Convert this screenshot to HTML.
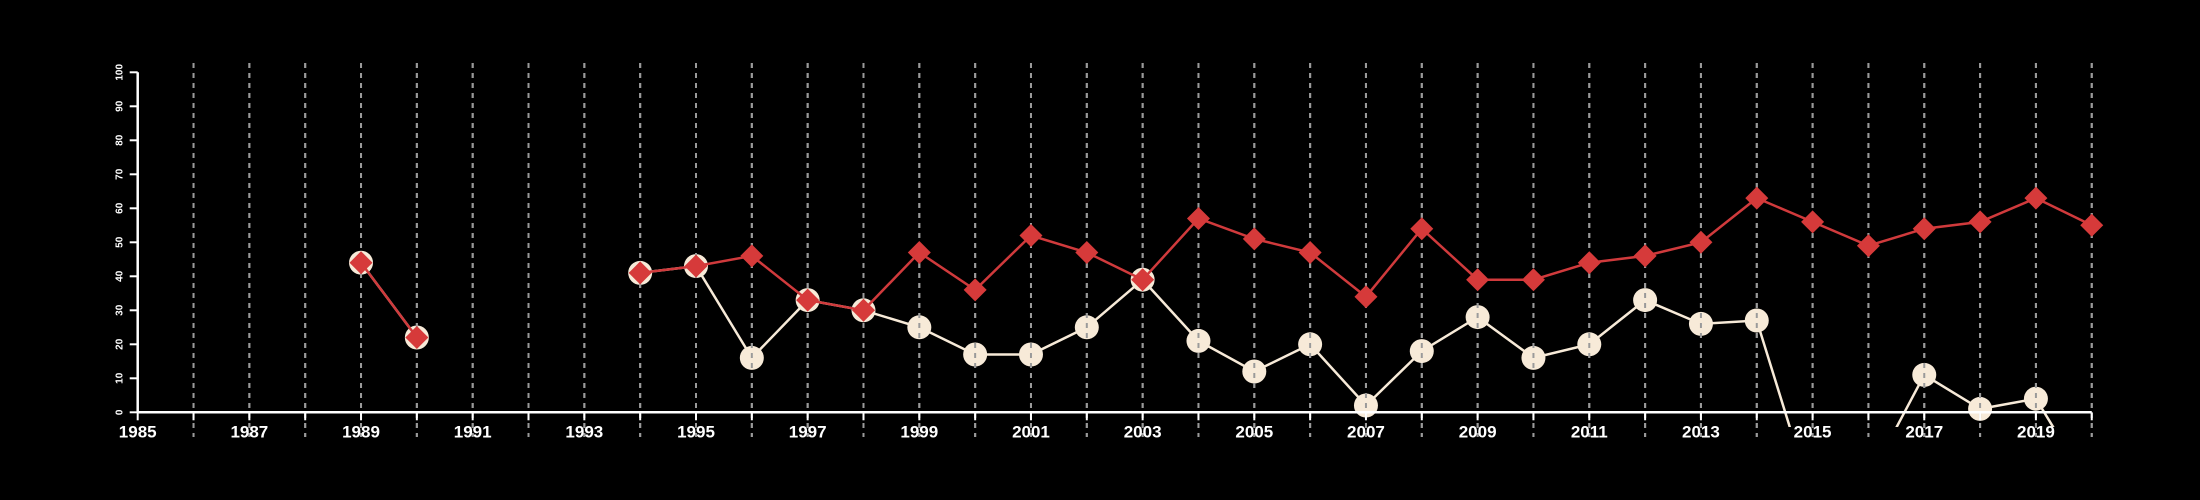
<!DOCTYPE html>
<html><head><meta charset="utf-8"><style>
html,body{margin:0;padding:0;background:#000;}
svg{display:block;}
text{font-family:"Liberation Sans",sans-serif;font-weight:bold;fill:#fff;}
</style></head><body>
<svg id="chart" width="2200" height="500" viewBox="0 0 2200 500">
<defs><clipPath id="plotclip"><rect x="0" y="0" width="2200" height="427"/></clipPath></defs>
<rect width="2200" height="500" fill="#000"/>
<g id="grid"></g>
<g id="whiteSeries" clip-path="url(#plotclip)"></g>
<g id="gridOver"></g>
<g id="redSeries"></g>
<g id="axes"></g>
</svg>
<script>
const years = [1989,1990,1994,1995,1996,1997,1998,1999,2000,2001,2002,2003,2004,2005,2006,2007,2008,2009,2010,2011,2012,2013,2014,2015,2016,2017,2018,2019,2020];
const redValues = [44,22,41,43,46,33,30,47,36,52,47,39,57,51,47,34,54,39,39,44,46,50,63,56,49,54,56,63,55];
const whiteValues = [44,22,41,43,16,33,30,25,17,17,25,39,21,12,20,2,18,28,16,20,33,26,27,-26,-20,11,1,4,-23];
const yTicks = [0,10,20,30,40,50,60,70,80,90,100];
const xLabels = [1985,1987,1989,1991,1993,1995,1997,1999,2001,2003,2005,2007,2009,2011,2013,2015,2017,2019];
const segments = [[0,1],[2,28]];

const NS="http://www.w3.org/2000/svg";
const X0=137.7, PERYR=55.83, Y0=412.3, PERU=3.4;
const xs=y=>X0+(y-1985)*PERYR;
const ys=v=>Y0-v*PERU;
function mk(tag,attrs,parent){const e=document.createElementNS(NS,tag);for(const k in attrs)e.setAttribute(k,attrs[k]);parent.appendChild(e);return e;}
const grid=document.getElementById('grid'),gridOver=document.getElementById('gridOver'),ws=document.getElementById('whiteSeries'),rs=document.getElementById('redSeries'),ax=document.getElementById('axes');

for(let y=1986;y<=2020;y++){
  for(const g of [grid,gridOver]){
    const l=mk('line',{x1:xs(y),x2:xs(y),y1:63,y2:437,stroke:'#9a9a9a','stroke-width':2,'stroke-dasharray':'5,5'},g);
    
    
  }
}
// white series
for(const [a,b] of segments){
  let pts=[];for(let i=a;i<=b;i++)pts.push(xs(years[i])+','+ys(whiteValues[i]));
  const p=mk('polyline',{points:pts.join(' '),fill:'none',stroke:'#f7ead8','stroke-width':2.5},ws);
  
  
}
years.forEach((y,i)=>{
  if(whiteValues[i]<-3)return;
  const c=mk('circle',{cx:xs(y),cy:ys(whiteValues[i]),r:12,fill:'#f7ead8'},ws);
  
  
});
// red series
for(const [a,b] of segments){
  let pts=[];for(let i=a;i<=b;i++)pts.push(xs(years[i])+','+ys(redValues[i]));
  const p=mk('polyline',{points:pts.join(' '),fill:'none',stroke:'#d03a3c','stroke-width':2.5},rs);
  
  
}
years.forEach((y,i)=>{
  const cx=xs(y),cy=ys(redValues[i]),d=11.5;
  const p=mk('polygon',{points:`${cx},${cy-d} ${cx+d},${cy} ${cx},${cy+d} ${cx-d},${cy}`,fill:'#d63a3a'},rs);
  
  
});
// axes
let l=mk('line',{x1:X0,x2:xs(2020),y1:Y0,y2:Y0,stroke:'#fff','stroke-width':2.5},ax);


for(let y=1985;y<=2020;y++){
  const t=mk('line',{x1:xs(y),x2:xs(y),y1:Y0,y2:Y0+8,stroke:'#fff','stroke-width':2},ax);
  
  
}
xLabels.forEach(y=>{
  const t=mk('text',{x:xs(y),y:Y0+25,'text-anchor':'middle','font-size':17},ax);
  t.textContent=y;
  
  
});
l=mk('line',{x1:X0,x2:X0,y1:ys(100),y2:Y0,stroke:'#fff','stroke-width':2.5},ax);


yTicks.forEach(v=>{
  const t=mk('line',{x1:X0-8,x2:X0,y1:ys(v),y2:ys(v),stroke:'#fff','stroke-width':2},ax);
  
  
  const tx=mk('text',{x:0,y:0,'text-anchor':'middle','font-size':10,transform:`translate(${X0-15},${ys(v)}) rotate(-90)`},ax);
  tx.textContent=v;
  
  
});
</script>
</body></html>
